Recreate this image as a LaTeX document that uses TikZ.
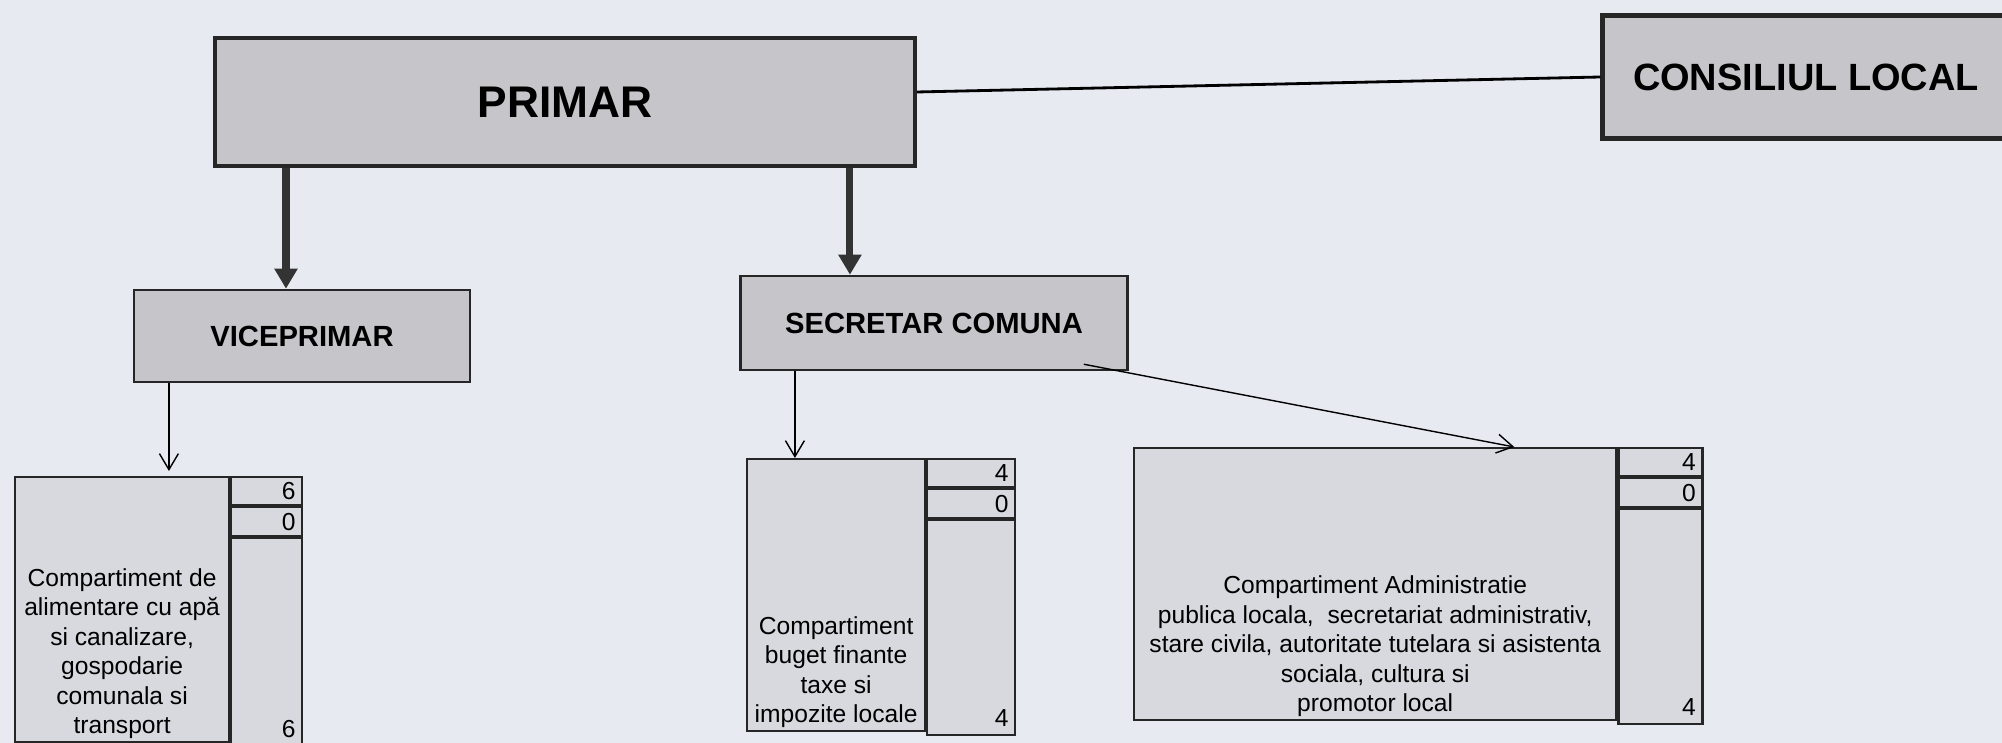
\documentclass[tikz,border=0pt]{standalone}
\usepackage{fontspec}
\setmainfont{Liberation Sans}
\usetikzlibrary{positioning,arrows.meta}

\definecolor{fundal}{HTML}{E8EAF2}
\definecolor{gricap}{HTML}{C6C6CA}
\definecolor{gricel}{HTML}{D8D9DF}

\tikzset{
  conducere/.style={draw=black!85, line width=1.2pt, fill=gricap},
  functie/.style={draw=black!85, line width=0.7pt, fill=gricap, font=\bfseries\fontsize{8.3}{10}\selectfont},
  celula/.style={draw=black!85, line width=0.6pt, fill=gricel, inner sep=0pt},
  scris/.style={align=center, inner sep=1pt, font=\fontsize{7}{8.4}\selectfont},
  numar/.style={inner sep=1pt, font=\fontsize{7}{8.4}\selectfont},
  sageata/.style={line width=2pt, draw=black!80, -{Triangle[length=2mm,width=2.2mm]}},
  subord/.style={line width=0.4pt, -{Straight Barb[length=1.6mm,width=1.9mm]}}
}

\begin{document}
\begin{tikzpicture}[x=0.01cm, y=-0.01cm]
\fill[fundal] (0,0) rectangle (2002,743);
\useasboundingbox (0,0) rectangle (2002,743);

% conducere
	\node[conducere, minimum width=6.99cm, minimum height=1.28cm, font=\bfseries\fontsize{12.6}{15}\selectfont] (primar) at (565,102) {PRIMAR};
	\node[conducere, minimum width=4.07cm, minimum height=1.23cm, font=\bfseries\fontsize{10.8}{13}\selectfont] (consiliu) at (1806,77) {CONSILIUL LOCAL};
	\draw[line width=0.8pt] ([yshift=1mm]primar.east) -- (consiliu.west);

	\node[functie, minimum width=3.36cm, minimum height=0.92cm] (vice) at (302,336) {VICEPRIMAR};
	\node[functie, minimum width=3.87cm, minimum height=0.94cm] (secretar) at (934,323) {SECRETAR COMUNA};

	\draw[sageata] ([xshift=-1.6mm]vice.north |- primar.south) -- ([xshift=-1.6mm]vice.north);
	\draw[sageata] ([xshift=-8.4mm]secretar.north |- primar.south) -- ([xshift=-8.4mm]secretar.north);

% compartimente
	\foreach \nume/\x/\y/\lat/\col/\inalt/\rest/\nr/\txt in {
		apa/14/476/2.14/0.71/2.65/2.08/6/{Compartiment de\\alimentare cu apă\\si canalizare,\\gospodarie\\comunala si\\transport},
		buget/746/458/1.78/0.88/2.72/2.15/4/{Compartiment\\buget finante\\taxe si\\impozite locale},
		admin/1133/447/4.82/0.84/2.72/2.15/4/{Compartiment Administratie\\publica locala,~ secretariat administrativ,\\stare civila, autoritate tutelara si asistenta\\sociala, cultura si\\promotor local}}
	{
		\node[celula, minimum width=\lat cm, minimum height=\inalt cm, anchor=north west] (\nume) at (\x,\y) {};
		\node[scris, above=0pt of \nume.south] (\nume-txt) {\txt};
		\node[celula, minimum width=\col cm, minimum height=0.28cm, anchor=north west] (\nume-a) at (\nume.north east) {};
		\node[celula, minimum width=\col cm, minimum height=0.29cm, anchor=north west] (\nume-b) at (\nume-a.south west) {};
		\node[celula, minimum width=\col cm, minimum height=\rest cm, anchor=north west] (\nume-c) at (\nume-b.south west) {};
		\node[numar, left=1pt of \nume-a.east] (\nume-na) {\nr};
		\node[numar, left=1pt of \nume-b.east] (\nume-nb) {0};
		\node[numar, above left=1.6pt and 1pt of \nume-c.south east] (\nume-nc) {\nr};
	}

	\draw[subord, shorten >=0.5mm] ([xshift=-13.3mm]vice.south) -- ([xshift=-13.3mm]vice.south |- apa.north);
	\draw[subord] ([xshift=-13.9mm]secretar.south) -- ([xshift=-13.9mm]secretar.south |- buget.north);
	\draw[subord] ([xshift=-4.5mm,yshift=0.7mm]secretar.south east) -- ([xshift=13.9mm]admin.north);
\end{tikzpicture}
\end{document}
